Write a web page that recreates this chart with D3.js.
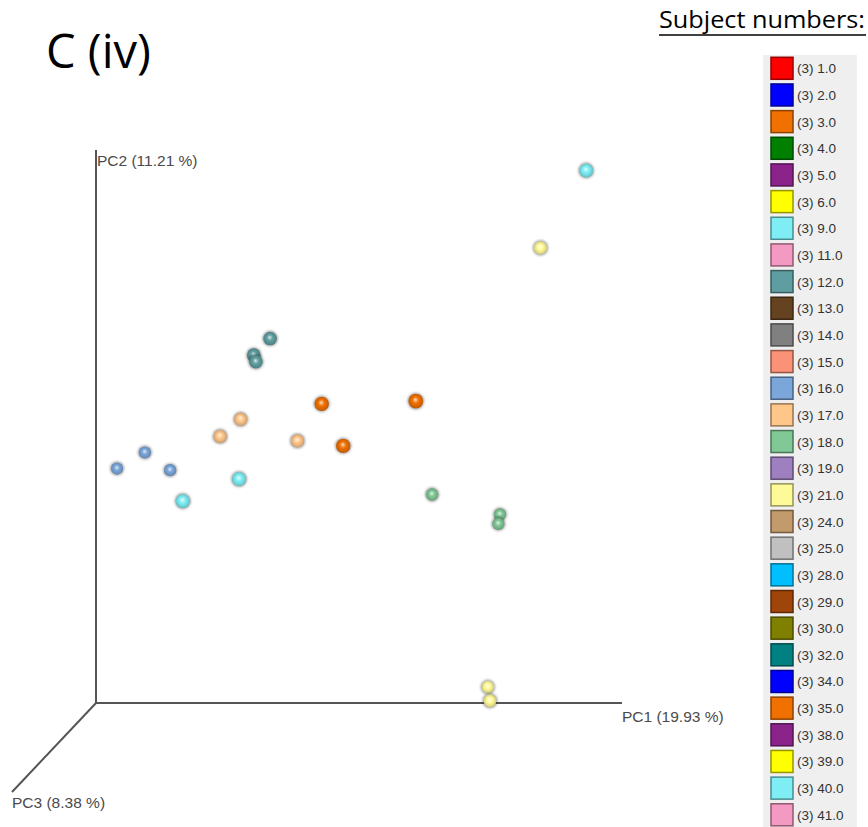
<!DOCTYPE html>
<html>
<head>
<meta charset="utf-8">
<script src="https://cdn.jsdelivr.net/npm/d3@7"></script>
<style>
  html, body { margin: 0; padding: 0; background: #fff; }
  svg { display: block; }
</style>
</head>
<body>
<div id="chart"></div>
<script>
// legend entries
const subjects = ['1.0','2.0','3.0','4.0','5.0','6.0','9.0','11.0','12.0','13.0','14.0','15.0','16.0','17.0','18.0','19.0','21.0','24.0','25.0','28.0','29.0','30.0','32.0','34.0','35.0','38.0','39.0','40.0','41.0'];
const sampleCounts = [3,3,3,3,3,3,3,3,3,3,3,3,3,3,3,3,3,3,3,3,3,3,3,3,3,3,3,3,3];
const subjectColors = ['#ff0000','#0000ff','#f07000','#007f00','#8b238b','#ffff00','#7eeef4','#f49ac2','#5f9ea0','#654321','#808080','#fa9278','#7aa6da','#ffc68a','#80c896','#9e80c0','#fffa98','#c39a6b','#c0c0c0','#00bfff','#a0450a','#808000','#008080','#0000ff','#f07000','#8b238b','#ffff00','#7eeef4','#f49ac2'];

// samples (projected PCoA coordinates, % of axis length)
const pointSubjects = ['12.0','12.0','12.0','17.0','17.0','17.0','16.0','16.0','16.0','40.0','40.0','40.0','35.0','35.0','35.0','18.0','18.0','18.0','21.0','21.0','21.0'];
const pc1Values = [33.1, 30.0, 30.4, 27.5, 23.6, 38.3,  9.3,  4.0, 14.1, 27.2, 16.5, 93.2, 42.9, 60.8, 47.0, 63.9, 76.8, 76.5, 84.5, 74.5, 74.9];
const pc2Values = [65.9, 62.9, 61.7, 51.3, 48.2, 47.4, 45.3, 42.4, 42.1, 40.5, 36.5, 96.3, 54.1, 54.6, 46.5, 37.7, 34.1, 32.4, 82.3,  2.9,  0.4];
const pc3Values = [ 0.2,  0.2,  0.2,  0.1,  0.1,  0.1, -0.5, -0.5, -0.5,  0.5,  0.5,  0.4,  0.6,  0.8,  0.6, -0.4, -0.5, -0.5,  0.1, -0.3, -0.1];

const axisLabels = ['PC1 (19.93 %)', 'PC2 (11.21 %)', 'PC3 (8.38 %)'];
const titleText = 'C (iv)';
const legendTitle = 'Subject numbers:';

class pcoaPlot {
    constructor(params) {
        var me = this;
        this.cont = d3.select('#' + params.idCont);
        this.width = params.width;
        this.height = params.height;
        let svg, defs, x, y, z, r, colorOf;

        this.init = function () {
            svg = me.cont.append('svg')
                .attr('width', me.width)
                .attr('height', me.height);
            defs = svg.append('defs');

            x = d3.scaleLinear().domain([0, 100]).range([96, 622]);
            y = d3.scaleLinear().domain([0, 100]).range([703, 150]);
            // oblique depth axis, as a fraction of the [dx, dy] offset from the origin
            z = d3.scaleLinear().domain([0, 100]).range([0, 1]);
            r = d3.scaleLinear().domain([-1, 1]).range([5.6, 7.6]);
            colorOf = d3.scaleOrdinal().domain(subjects).range(subjectColors);

            setTitle();
            setAxes();
            setPoints();
            setLegend();
        }

        function setTitle() {
            svg.append('text')
                .attr('x', 46).attr('y', 68)
                .attr('font-family', "'Open Sans', sans-serif")
                .attr('font-size', 47)
                .attr('fill', '#000')
                .text(titleText);
        }

        function setAxes() {
            let g = svg.append('g').attr('class', 'axes')
                .attr('stroke', '#555').attr('stroke-width', 2).attr('fill', 'none');
            let ox = x(0), oy = y(0);
            g.append('line').attr('x1', ox).attr('y1', oy).attr('x2', x(100)).attr('y2', oy);
            g.append('line').attr('x1', ox).attr('y1', oy).attr('x2', ox).attr('y2', y(100));
            g.append('line').attr('x1', ox).attr('y1', oy)
                .attr('x2', ox - 84 * z(100)).attr('y2', oy + 89 * z(100));

            let t = svg.append('g').attr('font-family', "'Liberation Sans', Arial, sans-serif")
                .attr('font-size', 15.5).attr('fill', '#4a4a4a');
            t.append('text').attr('x', x(100)).attr('y', 722).text(axisLabels[0]);
            t.append('text').attr('x', x(0) + 1).attr('y', 166).text(axisLabels[1]);
            t.append('text').attr('x', 12).attr('y', 808).text(axisLabels[2]);
        }

        function setPoints() {
            // blur for the soft halo round each sphere
            defs.append('filter').attr('id', 'halo')
                .attr('x', '-50%').attr('y', '-50%').attr('width', '200%').attr('height', '200%')
                .append('feGaussianBlur').attr('stdDeviation', 1.2);

            subjects.forEach((s, i) => {
                let c = d3.color(subjectColors[i]);
                let grad = defs.append('radialGradient')
                    .attr('id', 'sph' + i)
                    .attr('cx', '50%').attr('cy', '50%').attr('r', '55%')
                    .attr('fx', '47%').attr('fy', '40%');
                grad.append('stop').attr('offset', 0).attr('stop-color', d3.interpolateRgb(c, '#fff')(0.75));
                grad.append('stop').attr('offset', 0.4).attr('stop-color', c.formatHex());
                grad.append('stop').attr('offset', 0.82).attr('stop-color', c.darker(0.45).formatHex());
                grad.append('stop').attr('offset', 1).attr('stop-color', c.darker(1.2).formatHex());
            });

            let data = pointSubjects.map((s, i) => ({
                s: s, a: pc1Values[i], b: pc2Values[i], c: pc3Values[i]
            })).sort((p, q) => p.c - q.c);

            let g = svg.append('g').attr('class', 'points');
            let pt = g.selectAll('g').data(data).enter().append('g')
                .attr('transform', d => 'translate(' + x(d.a) + ',' + y(d.b) + ')');
            pt.append('circle')
                .attr('r', d => r(d.c) + 1.2)
                .attr('fill', 'rgba(0,0,0,0.3)')
                .attr('filter', 'url(#halo)');
            pt.append('circle')
                .attr('r', d => r(d.c))
                .attr('fill', d => 'url(#sph' + subjects.indexOf(d.s) + ')');
        }

        function setLegend() {
            let top = 55, pitch = 26.66, first = 68.3;
            svg.append('text')
                .attr('x', 659).attr('y', 28)
                .attr('font-family', "'Open Sans', sans-serif")
                .attr('font-size', 24)
                .attr('textLength', 206).attr('lengthAdjust', 'spacingAndGlyphs')
                .attr('fill', '#000')
                .text(legendTitle);
            svg.append('line')
                .attr('x1', 659).attr('x2', 866).attr('y1', 35).attr('y2', 35)
                .attr('stroke', '#000').attr('stroke-width', 1.5);

            svg.append('rect')
                .attr('x', 763).attr('y', top).attr('width', 94).attr('height', me.height - top)
                .attr('fill', '#efefef');

            let row = svg.append('g').attr('class', 'legend').selectAll('g').data(subjects).enter()
                .append('g')
                .attr('transform', (d, i) => 'translate(0,' + (first + i * pitch) + ')');
            row.append('rect')
                .attr('x', 771).attr('y', -11).attr('width', 22).attr('height', 22)
                .attr('fill', d => colorOf(d))
                .attr('stroke', d => d3.color(colorOf(d)).darker(1.5))
                .attr('stroke-width', 1.5);
            row.append('text')
                .attr('x', 797).attr('y', 5)
                .attr('font-family', "'Liberation Sans', Arial, sans-serif")
                .attr('font-size', 13.5)
                .attr('fill', '#333')
                .text((d, i) => '(' + sampleCounts[i] + ') ' + d);
        }

        me.init();
    }
}

new pcoaPlot({ idCont: 'chart', width: 868, height: 827 });
</script>
</body>
</html>
